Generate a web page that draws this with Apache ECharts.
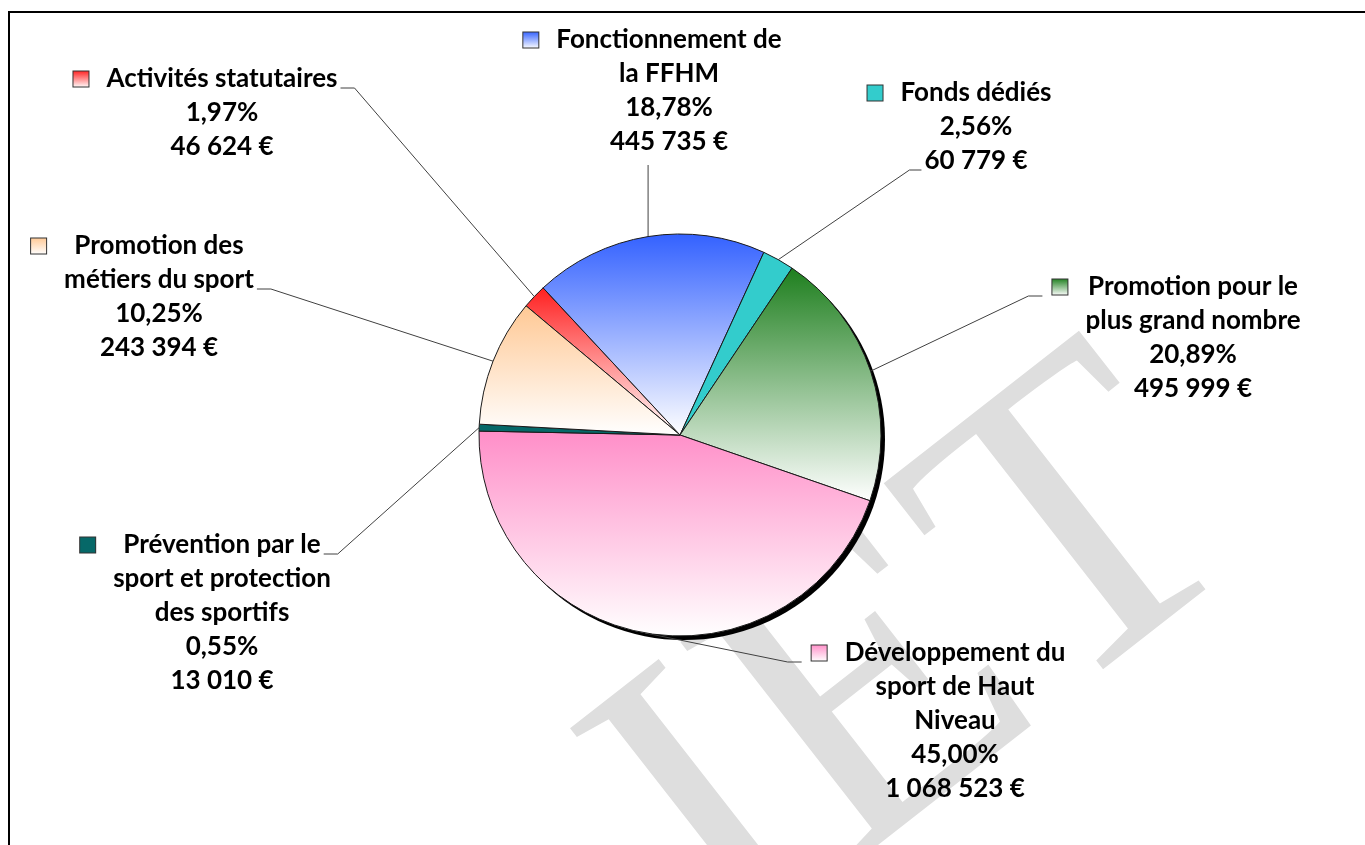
<!DOCTYPE html>
<html>
<head>
<meta charset="utf-8">
<script src="https://cdn.jsdelivr.net/npm/echarts@6/dist/echarts.min.js"></script>
<style>
html, body { margin: 0; padding: 0; background: #fff; }
#chart { width: 1365px; height: 845px; }
</style>
</head>
<body>
<div id="chart"></div>
<script>
// postes budgétaires (ordre du camembert, sens horaire)
const names = [
    'Activités statutaires',
    'Fonctionnement de\nla FFHM',
    'Fonds dédiés',
    'Promotion pour le\nplus grand nombre',
    'Développement du\nsport de Haut\nNiveau',
    'Prévention par le\nsport et protection\ndes sportifs',
    'Promotion des\nmétiers du sport'
];
const amounts = [46624, 445735, 60779, 495999, 1068523, 13010, 243394];
const percents = [1.97, 18.78, 2.56, 20.89, 45.00, 0.55, 10.25];

// couleurs (dégradé vers le blanc quand grad = true)
const colors = ['#FF1F1F', '#3361FF', '#33CCCC', '#1E7F1E', '#FF8EC8', '#066868', '#FFC894'];
const grad = [true, true, false, true, true, false, true];

// mise en page des étiquettes : centre du bloc, centre de la 1re ligne
const labelCenters = [[222, 79], [669, 40], [976, 93], [1193, 287], [955, 653], [222, 545], [159, 246]];
// point d'accroche du trait de rappel
const attach = [
    { line: 0, side: 'right' },
    { line: 3, side: 'bottom' },
    { line: 2, side: 'left' },
    { line: 0, side: 'key' },
    { line: 0, side: 'key' },
    { line: 0, side: 'right' },
    { line: 1, side: 'right' }
];

const LH = 34;
const FS = 26;
const FONT = 'bold ' + FS + 'px Lato';
const KEY = 15, KEY_GAP = 18;

const fmtPct = p => p.toFixed(2).replace('.', ',') + '%';
const fmtAmt = n => String(n).replace(/\B(?=(\d{3})+(?!\d))/g, ' ') + ' €';

const ctx = document.createElement('canvas').getContext('2d');
ctx.font = FONT;
const lines = names.map((n, i) => [...n.split('\n'), fmtPct(percents[i]), fmtAmt(amounts[i])]);
const metrics = lines.map(ls => {
    const widths = ls.map(s => ctx.measureText(s).width);
    return { widths, wmax: Math.max(...widths) };
});

const fillOf = i => grad[i]
    ? new echarts.graphic.LinearGradient(0, 0, 0, 1, [
        { offset: 0, color: colors[i] },
        { offset: 1, color: '#FFFFFF' }
    ])
    : colors[i];

const rich = {
    t: { fontFamily: 'Lato', fontSize: FS, fontWeight: 'bold', color: '#000', lineHeight: LH, align: 'center' }
};
names.forEach((n, i) => {
    const m = metrics[i];
    const half = (m.wmax - m.widths[0]) / 2;
    rich['k' + i] = { width: KEY, height: KEY, backgroundColor: fillOf(i), borderColor: '#333', borderWidth: 1, lineHeight: LH, align: 'center' };
    rich['g' + i] = { width: half + KEY_GAP, height: 1, lineHeight: LH, align: 'center' };
    rich['p' + i] = { width: half + KEY_GAP + KEY, height: 1, lineHeight: LH, align: 'center' };
});

const data = names.map((n, i) => ({
    name: n,
    value: amounts[i],
    itemStyle: { color: fillOf(i) }
}));

const chart = echarts.init(document.getElementById('chart'));

chart.setOption({
    animation: false,
    graphic: [
        {
            // filigrane du document
            type: 'text',
            x: 925, y: 665,
            rotation: 38 * Math.PI / 180,
            z: 0,
            silent: true,
            style: {
                text: 'IET',
                font: '430px "Liberation Serif"',
                fill: '#DEDEDE',
                align: 'center',
                verticalAlign: 'middle'
            }
        },
        {
            type: 'rect',
            z: 100,
            silent: true,
            shape: { x: 9, y: 12, width: 1400, height: 900 },
            style: { fill: null, stroke: '#000', lineWidth: 2 }
        }
    ],
    series: [
        {
            // ombre portée
            type: 'pie',
            silent: true,
            z: 1,
            center: [684, 439],
            radius: 201,
            label: { show: false },
            labelLine: { show: false },
            itemStyle: { color: '#000' },
            emphasis: { disabled: true },
            data: [{ name: 'ombre', value: 1 }]
        },
        {
            type: 'pie',
            z: 2,
            center: [680, 435],
            radius: 201,
            startAngle: 140,
            clockwise: true,
            avoidLabelOverlap: false,
            emphasis: { disabled: true },
            itemStyle: { borderColor: '#1a1a1a', borderWidth: 1 },
            label: {
                show: true,
                position: 'outside',
                overflow: 'none',
                lineHeight: LH,
                formatter: p => {
                    const i = p.dataIndex;
                    const ls = lines[i];
                    const first = '{k' + i + '|}{g' + i + '|}{t|' + ls[0] + '}{p' + i + '|}';
                    return [first, ...ls.slice(1).map(s => '{t|' + s + '}')].join('\n');
                },
                rich: rich
            },
            labelLine: {
                show: true,
                length: 10,
                length2: 10,
                lineStyle: { color: '#404040', width: 1 }
            },
            labelLayout: params => {
                const i = params.dataIndex;
                const [cx, cy] = labelCenters[i];
                const top = cy - LH / 2;
                const res = { x: cx, y: top, align: 'center', verticalAlign: 'top' };
                const a = params.labelLinePoints && params.labelLinePoints[0];
                if (a) {
                    const m = metrics[i];
                    const sp = attach[i];
                    const ly = top + LH * sp.line + LH / 2 + 9;
                    let ax, sx;
                    if (sp.side === 'right') {
                        ax = cx + m.widths[sp.line] / 2 + 3; sx = ax + 14;
                        res.labelLinePoints = [[a[0], a[1]], [sx, ly], [ax, ly]];
                    } else if (sp.side === 'key') {
                        ax = cx - m.wmax / 2 - KEY_GAP - KEY - 10; sx = ax - 14;
                        res.labelLinePoints = [[a[0], a[1]], [sx, ly], [ax, ly]];
                    } else if (sp.side === 'left') {
                        ax = cx - m.widths[sp.line] / 2 - 3; sx = ax - 12;
                        res.labelLinePoints = [[a[0], a[1]], [sx, ly], [ax, ly]];
                    } else {
                        const by = top + LH * lines[i].length + 6;
                        res.labelLinePoints = [[a[0], a[1]], [a[0], by], [a[0], by]];
                    }
                }
                return res;
            },
            data: data
        }
    ]
});
</script>
</body>
</html>
